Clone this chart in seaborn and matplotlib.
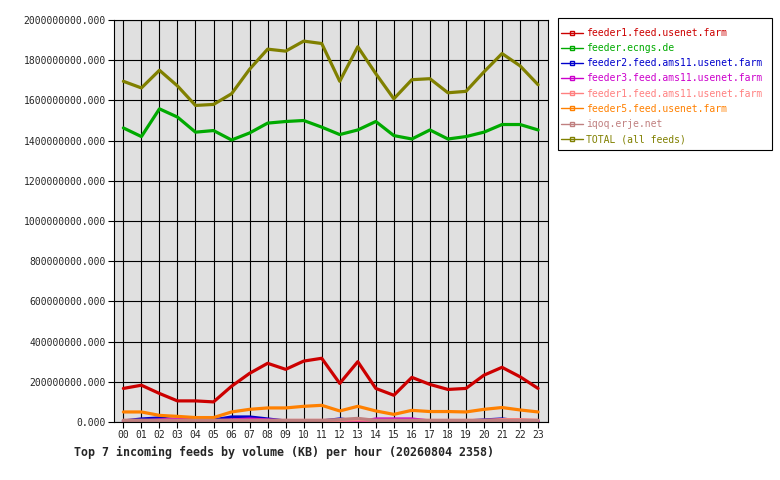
import matplotlib
matplotlib.use("Agg")
import matplotlib.pyplot as plt
from matplotlib.lines import Line2D
from matplotlib.patches import Rectangle
import seaborn as sns
import pandas as pd

hours = ["00", "01", "02", "03", "04", "05", "06", "07", "08", "09", "10", "11",
         "12", "13", "14", "15", "16", "17", "18", "19", "20", "21", "22", "23"]

feeds = ["feeder1.feed.usenet.farm", "feeder.ecngs.de", "feeder2.feed.ams11.usenet.farm",
         "feeder3.feed.ams11.usenet.farm", "feeder1.feed.ams11.usenet.farm",
         "feeder5.feed.usenet.farm", "iqoq.erje.net", "TOTAL (all feeds)"]

colors = ["#cc0000", "#00aa00", "#0000cc", "#cc00cc", "#ff8080", "#ff8000", "#c08080", "#808000"]

# values in millions of KB
feeder1_usenet = [167, 183, 142, 105, 105, 100, 178, 242, 292, 262, 303, 317,
                  192, 300, 167, 133, 222, 187, 162, 167, 233, 272, 225, 167]
ecngs = [1463, 1420, 1558, 1517, 1442, 1450, 1403, 1438, 1487, 1495, 1500, 1467,
         1430, 1453, 1495, 1425, 1408, 1453, 1408, 1420, 1442, 1480, 1480, 1453]
feeder2_ams11 = [5, 15, 20, 10, 5, 10, 25, 25, 15, 5, 5, 5,
                 15, 5, 5, 5, 5, 5, 5, 5, 10, 15, 5, 5]
feeder3_ams11 = [5, 5, 10, 15, 10, 5, 10, 15, 10, 5, 5, 5,
                 5, 0, 15, 15, 15, 5, 5, 5, 5, 5, 5, 5]
feeder1_ams11 = [8, 8, 8, 8, 8, 8, 8, 8, 8, 8, 8, 8,
                 8, 10, 8, 8, 8, 8, 8, 8, 8, 12, 12, 8]
feeder5_usenet = [50, 50, 33, 28, 22, 22, 50, 63, 70, 70, 78, 83,
                  55, 78, 55, 38, 58, 52, 52, 50, 63, 72, 60, 50]
iqoq = [8, 8, 8, 8, 8, 8, 8, 8, 8, 8, 8, 8,
        12, 18, 8, 8, 8, 8, 8, 8, 8, 8, 8, 8]
total = [1695, 1662, 1750, 1672, 1575, 1580, 1633, 1755, 1855, 1845, 1895, 1883,
         1695, 1867, 1733, 1608, 1703, 1708, 1638, 1645, 1742, 1833, 1772, 1678]

series = [feeder1_usenet, ecngs, feeder2_ams11, feeder3_ams11, feeder1_ams11,
          feeder5_usenet, iqoq, total]

rows = []
for name, vals in zip(feeds, series):
    for i, v in enumerate(vals):
        rows.append({"hour": i, "feed": name, "kb": v * 1e6})
df = pd.DataFrame(rows)

sns.set_style("white")
plt.rcParams["font.family"] = ["DejaVu Sans Mono"]

W, H = 780, 480
fig = plt.figure(figsize=(7.8, 4.8), dpi=100)
ax = fig.add_axes([114 / W, 58 / H, 434 / W, 402 / H])
ax.set_facecolor("#e0e0e0")

palette = dict(zip(feeds, colors))
sns.lineplot(data=df, x="hour", y="kb", hue="feed", hue_order=feeds, palette=palette,
             linewidth=2.3, legend=False, ax=ax, estimator=None)

ax.set_xlim(-0.52, 23.55)
ax.set_ylim(0, 2e9)
ax.set_xticks(range(24))
ax.set_xticklabels(hours, fontsize=7)
yt = [i * 2e8 for i in range(11)]
ax.set_yticks(yt)
ax.set_yticklabels([f"{v:.3f}" for v in yt], fontsize=7)
ax.tick_params(axis="both", direction="out", length=4, width=0.8, color="black",
               pad=2, left=True, bottom=True)
ax.grid(True, color="black", linewidth=0.8)
ax.set_axisbelow(True)
for s in ax.spines.values():
    s.set_color("black")
    s.set_linewidth(0.8)
ax.set_xlabel("")
ax.set_ylabel("")

# legend box
fig.patches.append(Rectangle((558 / W, 1 - 150 / H), 214 / W, 132 / H,
                             transform=fig.transFigure, facecolor="white",
                             edgecolor="black", linewidth=0.8, zorder=0))

handles = [Line2D([0], [0], color=c, linewidth=1, marker="s", markersize=2.5,
                  markerfacecolor="none", markeredgecolor=c) for c in colors]
leg = fig.legend(handles, feeds, loc="upper left",
                 bbox_to_anchor=(561 / W, 1 - 28 / H), frameon=False,
                 fontsize=7, handlelength=2.3, handletextpad=0.3,
                 labelspacing=0.53, borderpad=0, borderaxespad=0, numpoints=1)
for t, c in zip(leg.get_texts(), colors):
    t.set_color(c)

fig.text(74 / W, 1 - 452 / H,
         "Top 7 incoming feeds by volume (KB) per hour (20260804 2358)",
         fontsize=8.35, fontweight="bold", ha="left", va="center")

fig.savefig("out.png", dpi=100, facecolor="white")
